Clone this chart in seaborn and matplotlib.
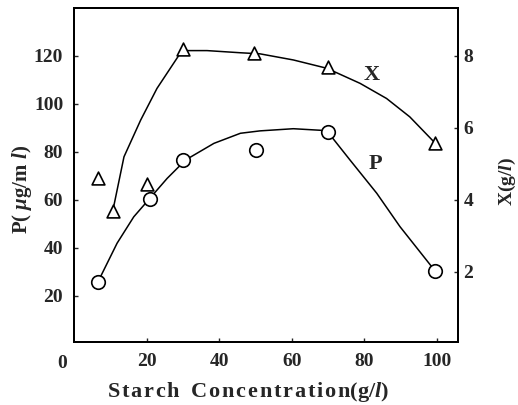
import matplotlib
matplotlib.use("Agg")
import matplotlib.pyplot as plt
import seaborn as sns
import pandas as pd

# measured points
x_tri = [6.5, 10.6, 20, 30, 49.5, 70, 99.5]
X_tri = [4.61, 3.69, 4.44, 8.19, 8.08, 7.69, 5.58]
x_circ = [6.5, 21, 30, 50, 70, 99.5]
P_circ = [25.8, 60.4, 76.7, 80.8, 88.3, 30.4]

# drawn curves
x_curveX = [10.6, 13.7, 18.3, 22.8, 27.4, 29.7, 36.6, 45.8, 51.2, 60.4, 69.6, 78.8, 86.1, 92.5, 99.5]
X_curve = [3.69, 5.20, 6.22, 7.10, 7.80, 8.15, 8.15, 8.09, 8.06, 7.89, 7.66, 7.24, 6.82, 6.31, 5.58]
x_curveP = [6.5, 11.8, 16.4, 20.6, 25.6, 30.7, 38.5, 45.8, 51.2, 60.4, 69.6, 76.0, 83.4, 89.8, 99.5]
P_curve = [25.8, 42.0, 53.0, 60.3, 69.0, 76.7, 83.6, 87.8, 88.8, 89.7, 88.9, 76.7, 62.8, 48.9, 30.4]

x_ticks = [20, 40, 60, 80, 100]
p_ticks = [20, 40, 60, 80, 100, 120]
X_ticks = [2, 4, 6, 8]

sns.set_theme(style="ticks")
plt.rcParams['font.family'] = ['Liberation Serif', 'DejaVu Serif']
plt.rcParams['font.weight'] = 'bold'
plt.rcParams['mathtext.fontset'] = 'custom'
plt.rcParams['mathtext.it'] = 'Liberation Serif:italic:bold'
plt.rcParams['mathtext.rm'] = 'Liberation Serif:bold'

fig = plt.figure(figsize=(5.18, 4.05), dpi=100)
ax = fig.add_axes([74.3/518, 1 - 342/405, (458 - 74.3)/518, (342 - 8)/405])
ax2 = ax.twinx()

dfXc = pd.DataFrame({"x": x_curveX, "y": X_curve})
dfPc = pd.DataFrame({"x": x_curveP, "y": P_curve})
dfXp = pd.DataFrame({"x": x_tri, "y": X_tri})
dfPp = pd.DataFrame({"x": x_circ, "y": P_circ})

sns.lineplot(data=dfPc, x="x", y="y", ax=ax, color="black", lw=1.1, sort=False, zorder=2)
sns.scatterplot(data=dfPp, x="x", y="y", ax=ax, marker="o", s=95, facecolor="white",
                edgecolor="black", linewidth=1.2, zorder=3)
sns.lineplot(data=dfXc, x="x", y="y", ax=ax2, color="black", lw=1.1, sort=False, zorder=2)
sns.scatterplot(data=dfXp, x="x", y="y", ax=ax2, marker="^", s=85, facecolor="white",
                edgecolor="black", linewidth=1.2, zorder=3)

ax.set_xlim(0, 105.8)
ax.set_ylim(0.83, 140)
ax2.set_ylim(0.83/15, 140/15)

ax.set_xticks(x_ticks)
ax.set_yticks(p_ticks)
ax2.set_yticks(X_ticks)
ax.tick_params(axis='both', direction='in', length=3, width=1, labelsize=14, pad=8)
ax2.tick_params(axis='y', direction='in', length=3, width=1, labelsize=14, pad=4)
for lab in ax.get_xticklabels() + ax.get_yticklabels() + ax2.get_yticklabels():
    lab.set_fontweight('bold')

for a in (ax, ax2):
    for sp in a.spines.values():
        sp.set_linewidth(1.4)
        sp.set_color('black')

ax.text(-3.3, -0.04, "0", transform=ax.get_xaxis_transform(), ha='center', va='top',
        fontsize=14, fontweight='bold')

hs = "\u200a"
xlabel = hs.join(list("Starch")) + "  " + hs.join(list("Concentration")) + "(g/$l$)"
ax.set_xlabel(xlabel, fontsize=16, fontweight='bold')
ax.xaxis.set_label_coords((248 - 74.3) / 383.7, (342 - 380) / 334)
ax.set_ylabel("P( $\\mu$g/m $l$)", fontsize=15, fontweight='bold')
ax.yaxis.set_label_coords((34 - 74.3) / 383.7, (342 - 189) / 334)
ax2.set_ylabel("X(g/$l$)", fontsize=14, fontweight='bold')
ax2.yaxis.set_label_coords((497 - 74.3) / 383.7, (342 - 182) / 334)

ax.text(82, 112, "X", fontsize=16, fontweight='bold', ha='center', va='center')
ax.text(83, 75, "P", fontsize=16, fontweight='bold', ha='center', va='center')

fig.savefig("out.png", dpi=100)
